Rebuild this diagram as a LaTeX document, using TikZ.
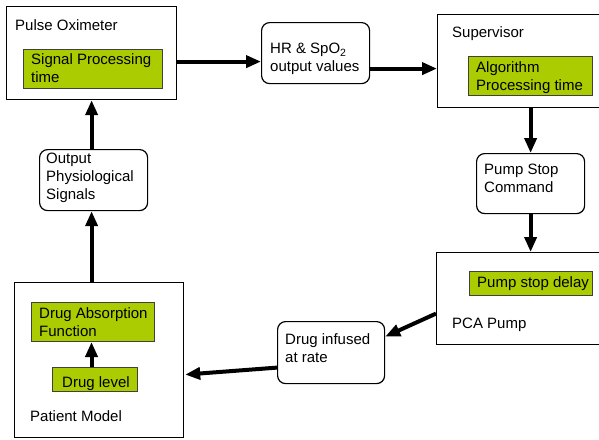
\documentclass[tikz,border=0pt]{standalone}
\usepackage{fontspec}
\setmainfont{Liberation Sans}
\usetikzlibrary{arrows.meta}
\definecolor{lime}{RGB}{170,204,0}
\begin{document}
\begin{tikzpicture}[x=1pt,y=-1pt,
  box/.style={draw=black,line width=1.2pt,fill=white,inner sep=0,anchor=north west},
  rbox/.style={box,rounded corners=8pt},
  gbox/.style={draw=black!75,line width=1pt,fill=lime,inner sep=0,anchor=north west},
  txt/.style={inner sep=0,anchor=north west,align=left,font=\fontsize{15}{18}\selectfont},
  arr/.style={line width=4pt,-{Triangle[length=15pt,width=12pt]}}]
\useasboundingbox[fill=white] (0,0) rectangle (599,439);
% boxes
\node[box,minimum width=170pt,minimum height=93pt] (po) at (6,6) {};
\node[gbox,minimum width=139pt,minimum height=39pt] (spg) at (23,49) {};
\node[rbox,minimum width=108pt,minimum height=61pt] (hr) at (261,22) {};
\node[box,minimum width=165pt,minimum height=93pt] (sup) at (437,14) {};
\node[gbox,minimum width=124pt,minimum height=39pt] (alg) at (468,56) {};
\node[rbox,minimum width=108pt,minimum height=60pt] (psc) at (476,153) {};
\node[box,minimum width=166pt,minimum height=92pt] (pca) at (436,252) {};
\node[gbox,minimum width=123pt,minimum height=24pt] (psd) at (469,271) {};
\node[rbox,minimum width=107pt,minimum height=62pt] (di) at (277,321) {};
\node[box,minimum width=169pt,minimum height=155pt] (pm) at (14,282) {};
\node[gbox,minimum width=123pt,minimum height=39pt] (daf) at (31,302) {};
\node[gbox,minimum width=85pt,minimum height=24pt] (dl) at (52,367) {};
\node[rbox,minimum width=108pt,minimum height=61pt] (ops) at (39,149) {};
% texts
\node[txt] (t1) at (15,19) {Pulse Oximeter};
\node[txt] (t2) at (31,53) {Signal Processing\\time};
\node[txt] (t3) at (270,43) {HR \& SpO\textsubscript{2}\\output values};
\node[txt] (t4) at (452,26) {Supervisor};
\node[txt] (t5) at (476,61) {Algorithm\\Processing time};
\node[txt] (t6) at (484,164) {Pump Stop\\Command};
\node[txt] (t7) at (477,276) {Pump stop delay};
\node[txt] (t8) at (452,318) {PCA Pump};
\node[txt] (t9) at (285,333) {Drug infused\\at rate};
\node[txt] (t10) at (39,307) {Drug Absorption\\Function};
\node[txt] (t11) at (62,376) {Drug level};
\node[txt] (t12) at (30,410) {Patient Model};
\node[txt] (t13) at (46,153) {Output\\Physiological\\Signals};
% connectors
\draw[arr] ([yshift=-8.5pt]po.east) -- ([yshift=-8.5pt]hr.west);
\draw[arr] ([yshift=-15.5pt]hr.east) -- ([yshift=-7.5pt]sup.west);
\draw[arr] (sup.south -| psc.north) -- (psc.north);
\draw[arr] (psc.south) -- (pca.north -| psc.south);
\draw[arr] ([yshift=-15pt]pca.west) -- ([yshift=16pt]di.east);
\draw[arr] ([yshift=-15pt]di.west) -- ([yshift=-14.5pt,xshift=1pt]pm.east);
\draw[arr] ([xshift=-3.5pt]dl.north) -- ([xshift=-1.5pt]daf.south);
\draw[arr] ([xshift=-7.5pt]pm.north) -- ([xshift=-2pt]ops.south);
\draw[arr] ([xshift=-2pt]ops.north) -- (po.south);
\end{tikzpicture}
\end{document}
